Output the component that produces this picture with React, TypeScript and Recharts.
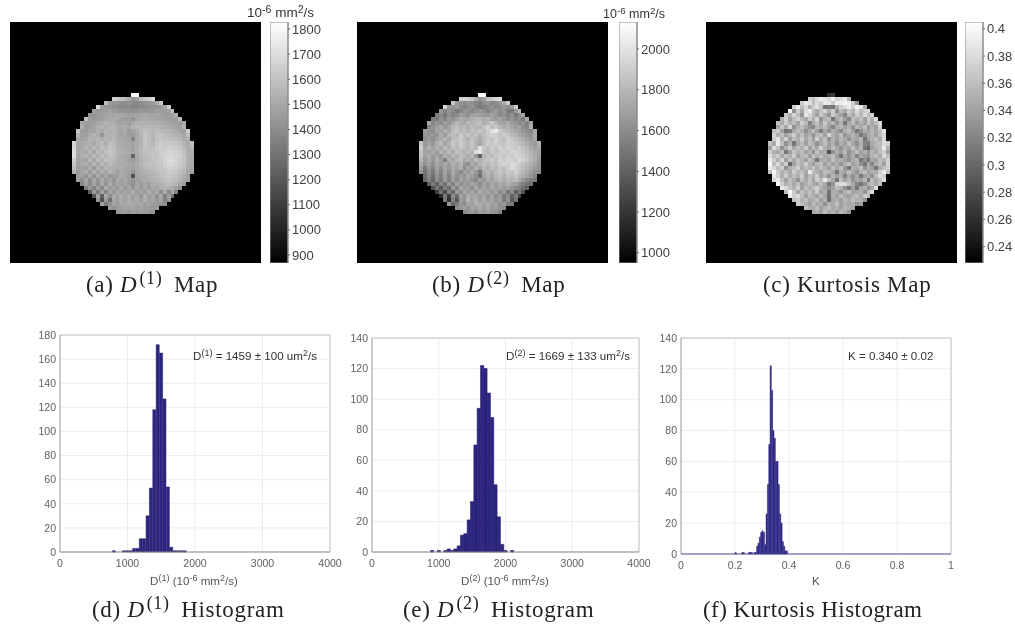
import type { ReactNode } from "react";
import {
  Bar,
  BarChart,
  CartesianGrid,
  ReferenceLine,
  Scatter,
  ScatterChart,
  XAxis,
  YAxis,
} from "recharts";

// histogram bins
const d1Bins = [800, 950, 1000, 1050, 1100, 1150, 1200, 1250, 1300, 1350, 1400, 1450, 1500, 1550, 1600, 1650, 1700, 1750, 1800, 1850];
const d1Counts = [1, 1, 1, 1, 3, 3, 11, 11, 30, 53, 118, 172, 165, 127, 54, 4, 1, 1, 1, 1];
const d2Bins = [900, 1000, 1100, 1150, 1200, 1250, 1300, 1350, 1400, 1450, 1500, 1550, 1600, 1650, 1700, 1750, 1800, 1850, 1900, 1950, 2000, 2100];
const d2Counts = [1, 1, 1, 2, 1, 2, 4, 11, 12, 21, 33, 70, 94, 122, 120, 104, 88, 44, 23, 5, 1, 1];
const kBins = [0.2025, 0.2275, 0.2325, 0.2425, 0.2525, 0.2575, 0.2625, 0.2675, 0.2725, 0.2775, 0.2825, 0.2875, 0.2925, 0.2975, 0.3025, 0.3075, 0.3125, 0.3175, 0.3225, 0.3275, 0.3325, 0.3375, 0.3425, 0.3475, 0.3525, 0.3575, 0.3625, 0.3675, 0.3725, 0.3775, 0.3825, 0.3875, 0.3925];
const kCounts = [1, 1, 1, 0, 1, 1, 1, 0, 1, 1, 5, 7, 11, 14, 15, 14, 6, 26, 45, 71, 122, 106, 80, 75, 60, 60, 45, 26, 20, 8, 5, 2, 2];

const countTicksD1 = [0, 20, 40, 60, 80, 100, 120, 140, 160, 180];
const countTicks = [0, 20, 40, 60, 80, 100, 120, 140];
const diffTicks = [0, 1000, 2000, 3000, 4000];
const kTicks = [0, 0.2, 0.4, 0.6, 0.8, 1];

const d1BarTicks = [900, 1000, 1100, 1200, 1300, 1400, 1500, 1600, 1700, 1800];
const d2BarTicks = [1000, 1200, 1400, 1600, 1800, 2000];
const kBarTicks = [0.24, 0.26, 0.28, 0.3, 0.32, 0.34, 0.36, 0.38, 0.4];

// first column of each row of the round phantom
const rowStarts = [15, 10, 8, 6, 5, 4, 3, 2, 2, 1, 1, 1, 0, 0, 0, 0, 0, 0, 0, 0, 1, 1, 2, 3, 4, 5, 6, 7, 9, 11];

const d1Map = [
  [1810, 1810],
  [1640, 1620, 1580, 1560, 1480, 1400, 1440, 1560, 1600, 1640, 1680],
  [1560, 1430, 1400, 1400, 1380, 1370, 1380, 1360, 1350, 1380, 1390, 1400, 1430, 1480, 1600],
  [1680, 1450, 1420, 1400, 1380, 1380, 1360, 1350, 1370, 1340, 1340, 1360, 1370, 1380, 1390, 1400, 1420, 1470, 1620],
  [1440, 1420, 1420, 1430, 1450, 1430, 1420, 1400, 1400, 1390, 1380, 1400, 1420, 1400, 1400, 1410, 1440, 1430, 1420, 1450, 1560],
  [1400, 1410, 1430, 1450, 1460, 1470, 1470, 1480, 1470, 1460, 1440, 1450, 1460, 1470, 1480, 1470, 1460, 1470, 1450, 1440, 1430, 1450, 1500],
  [1560, 1430, 1410, 1420, 1450, 1470, 1480, 1490, 1480, 1450, 1430, 1450, 1390, 1460, 1480, 1490, 1480, 1480, 1470, 1460, 1450, 1440, 1430, 1430, 1560],
  [1470, 1430, 1430, 1450, 1480, 1490, 1520, 1510, 1500, 1470, 1450, 1470, 1440, 1480, 1510, 1520, 1520, 1510, 1500, 1500, 1490, 1480, 1460, 1450, 1440, 1430, 1480],
  [1500, 1420, 1440, 1470, 1500, 1520, 1500, 1520, 1530, 1490, 1480, 1500, 1470, 1520, 1540, 1540, 1530, 1540, 1520, 1530, 1510, 1500, 1490, 1470, 1460, 1440, 1520],
  [1600, 1440, 1430, 1470, 1460, 1510, 1480, 1530, 1510, 1530, 1500, 1460, 1480, 1430, 1470, 1490, 1540, 1580, 1560, 1540, 1560, 1550, 1540, 1530, 1510, 1490, 1470, 1450, 1620],
  [1520, 1450, 1450, 1490, 1530, 1500, 1400, 1510, 1520, 1530, 1480, 1460, 1470, 1440, 1420, 1470, 1540, 1600, 1570, 1530, 1580, 1590, 1560, 1540, 1530, 1520, 1500, 1470, 1560],
  [1480, 1460, 1470, 1520, 1510, 1530, 1500, 1530, 1510, 1540, 1500, 1480, 1470, 1460, 1340, 1480, 1510, 1590, 1560, 1520, 1570, 1600, 1570, 1580, 1560, 1560, 1540, 1490, 1500],
  [1660, 1470, 1480, 1500, 1510, 1470, 1530, 1560, 1510, 1570, 1550, 1500, 1490, 1480, 1470, 1460, 1490, 1520, 1600, 1570, 1540, 1590, 1620, 1600, 1620, 1600, 1590, 1570, 1520, 1490, 1560],
  [1680, 1480, 1490, 1530, 1490, 1540, 1500, 1570, 1540, 1580, 1560, 1510, 1500, 1490, 1480, 1450, 1490, 1530, 1580, 1560, 1560, 1610, 1640, 1620, 1640, 1630, 1620, 1600, 1550, 1500, 1520],
  [1700, 1480, 1500, 1490, 1530, 1460, 1550, 1520, 1570, 1590, 1570, 1520, 1510, 1500, 1480, 1470, 1500, 1540, 1570, 1570, 1580, 1600, 1630, 1640, 1660, 1650, 1640, 1620, 1570, 1510, 1500],
  [1690, 1470, 1500, 1530, 1480, 1540, 1500, 1560, 1530, 1580, 1560, 1510, 1490, 1480, 1460, 1210, 1480, 1520, 1560, 1570, 1590, 1590, 1620, 1640, 1670, 1670, 1650, 1630, 1590, 1510, 1490],
  [1640, 1460, 1490, 1470, 1530, 1470, 1550, 1510, 1570, 1560, 1540, 1510, 1490, 1480, 1460, 1420, 1470, 1510, 1550, 1560, 1580, 1590, 1610, 1650, 1680, 1680, 1660, 1620, 1590, 1510, 1480],
  [1600, 1450, 1480, 1510, 1460, 1520, 1480, 1540, 1500, 1550, 1530, 1500, 1480, 1490, 1470, 1460, 1490, 1530, 1560, 1570, 1570, 1590, 1610, 1640, 1670, 1670, 1640, 1610, 1580, 1500, 1470],
  [1560, 1450, 1460, 1440, 1500, 1420, 1510, 1470, 1530, 1520, 1500, 1480, 1500, 1480, 1470, 1460, 1480, 1520, 1530, 1560, 1560, 1580, 1600, 1610, 1650, 1640, 1620, 1590, 1560, 1490, 1460],
  [1520, 1430, 1470, 1490, 1430, 1510, 1440, 1510, 1460, 1520, 1490, 1440, 1490, 1480, 1460, 1400, 1470, 1500, 1520, 1530, 1540, 1560, 1590, 1600, 1620, 1610, 1600, 1570, 1540, 1470, 1450],
  [1440, 1450, 1400, 1480, 1390, 1490, 1420, 1470, 1400, 1430, 1440, 1500, 1470, 1450, 1130, 1460, 1480, 1500, 1510, 1530, 1540, 1570, 1580, 1610, 1590, 1580, 1550, 1500, 1460],
  [1430, 1380, 1460, 1370, 1470, 1390, 1480, 1420, 1460, 1400, 1490, 1450, 1480, 1430, 1400, 1440, 1460, 1490, 1500, 1510, 1530, 1550, 1570, 1590, 1570, 1560, 1520, 1470, 1440],
  [1350, 1440, 1350, 1460, 1380, 1470, 1400, 1490, 1430, 1480, 1440, 1460, 1420, 1390, 1460, 1430, 1480, 1440, 1500, 1490, 1520, 1540, 1560, 1540, 1520, 1470, 1420],
  [1300, 1420, 1330, 1450, 1360, 1480, 1420, 1460, 1400, 1490, 1420, 1470, 1410, 1480, 1420, 1470, 1430, 1490, 1460, 1500, 1520, 1510, 1490, 1450, 1390],
  [1180, 1420, 1300, 1460, 1340, 1470, 1410, 1490, 1430, 1470, 1440, 1500, 1430, 1480, 1420, 1500, 1450, 1490, 1380, 1490, 1350, 1460, 1320],
  [1150, 1460, 1200, 1480, 1370, 1490, 1440, 1500, 1460, 1490, 1450, 1480, 1410, 1500, 1430, 1470, 1380, 1480, 1310, 1450, 1250],
  [1400, 1130, 1430, 1250, 1470, 1430, 1490, 1460, 1510, 1450, 1490, 1440, 1500, 1450, 1470, 1410, 1460, 1340, 1400],
  [1450, 1300, 1390, 1460, 1420, 1480, 1470, 1500, 1490, 1460, 1480, 1450, 1470, 1430, 1420, 1400, 1380],
  [1420, 1400, 1440, 1430, 1460, 1450, 1470, 1440, 1460, 1430, 1440, 1410, 1420],
  [1400, 1420, 1430, 1410, 1440, 1420, 1450, 1430, 1420, 1390],
];

const d2Map = [
  [2110, 2110],
  [1900, 1930, 1880, 1840, 1720, 1600, 1660, 1830, 1880, 1930, 1960],
  [1850, 1620, 1590, 1560, 1600, 1580, 1530, 1510, 1580, 1610, 1540, 1570, 1620, 1700, 1880],
  [1940, 1620, 1590, 1640, 1570, 1520, 1560, 1600, 1530, 1480, 1500, 1550, 1590, 1540, 1570, 1620, 1580, 1640, 1860],
  [1620, 1540, 1600, 1560, 1470, 1520, 1610, 1600, 1540, 1590, 1620, 1580, 1520, 1590, 1640, 1560, 1600, 1500, 1480, 1620, 1780],
  [1500, 1570, 1470, 1590, 1530, 1560, 1650, 1620, 1580, 1660, 1690, 1660, 1640, 1620, 1680, 1620, 1560, 1590, 1510, 1600, 1480, 1570, 1680],
  [1520, 1480, 1590, 1530, 1620, 1600, 1660, 1720, 1700, 1680, 1750, 1780, 1770, 1730, 1760, 1680, 1640, 1690, 1620, 1560, 1610, 1540, 1590, 1490, 1720],
  [1700, 1530, 1620, 1570, 1650, 1610, 1700, 1780, 1740, 1700, 1790, 1760, 1800, 1820, 1740, 1790, 1850, 1780, 1700, 1680, 1730, 1650, 1610, 1550, 1600, 1520, 1680],
  [1540, 1600, 1650, 1710, 1620, 1680, 1780, 1820, 1760, 1800, 1740, 1810, 1780, 1760, 1840, 1900, 1810, 1870, 1780, 1720, 1770, 1700, 1640, 1690, 1570, 1540, 1750],
  [1640, 1610, 1570, 1690, 1660, 1740, 1700, 1790, 1850, 1790, 1820, 1770, 1830, 1800, 1860, 1810, 1890, 1980, 2020, 1870, 1820, 1790, 1740, 1700, 1670, 1620, 1580, 1540, 1700],
  [1620, 1600, 1620, 1590, 1730, 1640, 1760, 1820, 1770, 1870, 1800, 1850, 1790, 1840, 1770, 1830, 1860, 1920, 1880, 1830, 1880, 1840, 1790, 1760, 1710, 1660, 1620, 1600, 1720],
  [1580, 1640, 1570, 1660, 1700, 1770, 1700, 1790, 1830, 1870, 1810, 1760, 1830, 1780, 1720, 1810, 1860, 1830, 1900, 1850, 1820, 1890, 1850, 1810, 1780, 1740, 1680, 1620, 1690],
  [1850, 1620, 1680, 1620, 1730, 1790, 1680, 1750, 1860, 1810, 1880, 1830, 1790, 1850, 1760, 1700, 1820, 1880, 1840, 1900, 1860, 1830, 1900, 1880, 1850, 1820, 1780, 1730, 1670, 1640, 1760],
  [1880, 1660, 1740, 1680, 1760, 1690, 1800, 1740, 1830, 1780, 1850, 1810, 1770, 1830, 1790, 1990, 1860, 1810, 1880, 1840, 1900, 1870, 1920, 1890, 1860, 1900, 1830, 1790, 1720, 1680, 1700],
  [1830, 1700, 1660, 1720, 1650, 1770, 1710, 1790, 1720, 1840, 1790, 1760, 1810, 1770, 1950, 2000, 1840, 1800, 1860, 1830, 1880, 1900, 1860, 1920, 1900, 1870, 1850, 1810, 1760, 1700, 1680],
  [1820, 1660, 1720, 1640, 1700, 1620, 1750, 1690, 1770, 1730, 1800, 1770, 1730, 1790, 1620, 1370, 1780, 1830, 1800, 1850, 1890, 1850, 1910, 1870, 1940, 1900, 1880, 1830, 1780, 1720, 1660],
  [1760, 1640, 1700, 1620, 1730, 1660, 1510, 1740, 1690, 1780, 1810, 1720, 1760, 1700, 1790, 1730, 1800, 1840, 1870, 1830, 1900, 1860, 1930, 1910, 1880, 1960, 1900, 1850, 1790, 1730, 1640],
  [1700, 1610, 1670, 1590, 1700, 1640, 1710, 1650, 1750, 1700, 1770, 1640, 1580, 1730, 1680, 1770, 1820, 1780, 1850, 1820, 1880, 1930, 1900, 1950, 1920, 1880, 1840, 1800, 1740, 1680, 1620],
  [1650, 1470, 1620, 1540, 1680, 1590, 1700, 1620, 1720, 1680, 1740, 1560, 1700, 1640, 1750, 1690, 1780, 1740, 1820, 1790, 1850, 1810, 1880, 1960, 1900, 1860, 1810, 1760, 1700, 1640, 1600],
  [1600, 1450, 1570, 1480, 1640, 1530, 1690, 1570, 1700, 1620, 1560, 1680, 1640, 1720, 1620, 1480, 1730, 1780, 1740, 1800, 1850, 1800, 1860, 1840, 1890, 1830, 1770, 1720, 1660, 1590, 1570],
  [1420, 1560, 1440, 1600, 1500, 1660, 1530, 1680, 1590, 1650, 1600, 1700, 1660, 1590, 1440, 1690, 1750, 1710, 1780, 1820, 1760, 1840, 1800, 1850, 1790, 1740, 1680, 1610, 1530],
  [1400, 1520, 1390, 1570, 1470, 1640, 1510, 1650, 1560, 1690, 1620, 1670, 1600, 1550, 1660, 1620, 1710, 1670, 1740, 1790, 1730, 1800, 1770, 1800, 1720, 1640, 1560, 1500, 1480],
  [1330, 1480, 1360, 1540, 1440, 1620, 1520, 1680, 1590, 1660, 1610, 1680, 1640, 1570, 1680, 1630, 1700, 1650, 1720, 1690, 1740, 1710, 1660, 1590, 1510, 1450, 1430],
  [1280, 1460, 1320, 1520, 1410, 1640, 1530, 1700, 1620, 1660, 1580, 1700, 1620, 1690, 1630, 1720, 1660, 1700, 1640, 1680, 1610, 1560, 1500, 1430, 1360],
  [1200, 1450, 1250, 1530, 1380, 1650, 1580, 1720, 1640, 1690, 1610, 1730, 1650, 1700, 1620, 1680, 1560, 1640, 1470, 1560, 1350, 1480, 1300],
  [1100, 1480, 1180, 1560, 1420, 1680, 1600, 1740, 1670, 1720, 1640, 1710, 1620, 1690, 1580, 1640, 1490, 1580, 1350, 1500, 1230],
  [1480, 1120, 1520, 1300, 1650, 1590, 1750, 1680, 1730, 1650, 1720, 1640, 1700, 1610, 1650, 1480, 1590, 1320, 1450],
  [1600, 1380, 1500, 1620, 1560, 1700, 1660, 1750, 1710, 1680, 1720, 1650, 1680, 1590, 1620, 1500, 1480],
  [1580, 1620, 1660, 1600, 1700, 1650, 1720, 1660, 1700, 1640, 1650, 1590, 1560],
  [1560, 1600, 1640, 1580, 1660, 1620, 1680, 1610, 1590, 1530],
];

const kMap = [
  [0.262, 0.27],
  [0.372, 0.36, 0.38, 0.392, 0.386, 0.378, 0.395, 0.376, 0.382, 0.39, 0.352],
  [0.37, 0.39, 0.384, 0.362, 0.38, 0.37, 0.392, 0.388, 0.37, 0.395, 0.39, 0.398, 0.392, 0.372, 0.332],
  [0.37, 0.392, 0.36, 0.378, 0.35, 0.372, 0.384, 0.365, 0.31, 0.315, 0.308, 0.35, 0.372, 0.38, 0.392, 0.375, 0.395, 0.386, 0.345],
  [0.395, 0.33, 0.37, 0.345, 0.38, 0.39, 0.36, 0.345, 0.362, 0.375, 0.35, 0.372, 0.33, 0.36, 0.345, 0.37, 0.355, 0.38, 0.36, 0.372, 0.38],
  [0.365, 0.35, 0.375, 0.36, 0.33, 0.388, 0.375, 0.358, 0.34, 0.366, 0.35, 0.33, 0.368, 0.352, 0.34, 0.32, 0.36, 0.345, 0.37, 0.355, 0.38, 0.36, 0.372],
  [0.35, 0.372, 0.34, 0.36, 0.375, 0.355, 0.345, 0.37, 0.35, 0.375, 0.33, 0.352, 0.36, 0.31, 0.345, 0.36, 0.34, 0.32, 0.358, 0.35, 0.36, 0.34, 0.37, 0.352, 0.38],
  [0.36, 0.345, 0.37, 0.35, 0.36, 0.34, 0.372, 0.356, 0.32, 0.35, 0.362, 0.34, 0.366, 0.345, 0.355, 0.33, 0.35, 0.31, 0.345, 0.36, 0.335, 0.35, 0.34, 0.365, 0.345, 0.36, 0.38],
  [0.34, 0.365, 0.345, 0.375, 0.33, 0.35, 0.36, 0.345, 0.33, 0.32, 0.355, 0.345, 0.36, 0.34, 0.32, 0.345, 0.355, 0.34, 0.35, 0.33, 0.355, 0.345, 0.36, 0.335, 0.35, 0.34, 0.37],
  [0.36, 0.37, 0.34, 0.31, 0.315, 0.345, 0.36, 0.35, 0.33, 0.345, 0.36, 0.34, 0.315, 0.345, 0.33, 0.35, 0.34, 0.325, 0.35, 0.36, 0.34, 0.31, 0.33, 0.35, 0.34, 0.355, 0.345, 0.36, 0.385],
  [0.375, 0.35, 0.36, 0.34, 0.355, 0.37, 0.345, 0.36, 0.34, 0.35, 0.33, 0.352, 0.36, 0.34, 0.375, 0.35, 0.34, 0.36, 0.33, 0.345, 0.355, 0.34, 0.31, 0.33, 0.345, 0.355, 0.34, 0.36, 0.375],
  [0.37, 0.385, 0.35, 0.372, 0.34, 0.36, 0.35, 0.37, 0.345, 0.36, 0.34, 0.37, 0.345, 0.36, 0.33, 0.35, 0.34, 0.355, 0.345, 0.33, 0.35, 0.34, 0.355, 0.31, 0.34, 0.35, 0.36, 0.345, 0.38],
  [0.36, 0.345, 0.39, 0.36, 0.33, 0.35, 0.31, 0.345, 0.36, 0.34, 0.36, 0.35, 0.33, 0.345, 0.36, 0.34, 0.35, 0.33, 0.35, 0.34, 0.36, 0.345, 0.33, 0.35, 0.32, 0.315, 0.345, 0.355, 0.36, 0.38, 0.372],
  [0.34, 0.38, 0.36, 0.33, 0.35, 0.37, 0.345, 0.36, 0.35, 0.37, 0.34, 0.36, 0.345, 0.375, 0.35, 0.34, 0.36, 0.345, 0.33, 0.35, 0.34, 0.36, 0.34, 0.355, 0.31, 0.3, 0.34, 0.35, 0.36, 0.39, 0.35],
  [0.37, 0.35, 0.345, 0.36, 0.31, 0.34, 0.365, 0.35, 0.36, 0.34, 0.35, 0.33, 0.36, 0.345, 0.35, 0.285, 0.33, 0.35, 0.34, 0.355, 0.33, 0.345, 0.36, 0.34, 0.35, 0.33, 0.355, 0.345, 0.36, 0.37, 0.34],
  [0.38, 0.36, 0.37, 0.345, 0.36, 0.35, 0.37, 0.34, 0.355, 0.36, 0.34, 0.365, 0.35, 0.36, 0.345, 0.35, 0.36, 0.34, 0.31, 0.345, 0.33, 0.35, 0.32, 0.345, 0.335, 0.33, 0.35, 0.36, 0.345, 0.38, 0.36],
  [0.39, 0.37, 0.35, 0.375, 0.34, 0.36, 0.345, 0.36, 0.35, 0.34, 0.36, 0.345, 0.31, 0.345, 0.35, 0.34, 0.36, 0.345, 0.35, 0.34, 0.33, 0.345, 0.355, 0.31, 0.33, 0.31, 0.345, 0.34, 0.36, 0.35, 0.37],
  [0.4, 0.36, 0.38, 0.35, 0.37, 0.3, 0.34, 0.36, 0.35, 0.37, 0.35, 0.34, 0.355, 0.36, 0.34, 0.355, 0.34, 0.35, 0.33, 0.35, 0.36, 0.34, 0.35, 0.33, 0.31, 0.345, 0.32, 0.35, 0.36, 0.34, 0.375],
  [0.39, 0.38, 0.36, 0.37, 0.33, 0.35, 0.36, 0.37, 0.345, 0.36, 0.35, 0.365, 0.345, 0.36, 0.35, 0.34, 0.36, 0.345, 0.36, 0.335, 0.31, 0.35, 0.345, 0.36, 0.33, 0.35, 0.34, 0.31, 0.345, 0.36, 0.37],
  [0.36, 0.4, 0.37, 0.35, 0.36, 0.345, 0.37, 0.355, 0.36, 0.345, 0.39, 0.36, 0.35, 0.34, 0.36, 0.355, 0.345, 0.31, 0.35, 0.34, 0.36, 0.345, 0.33, 0.35, 0.36, 0.34, 0.35, 0.345, 0.37, 0.39, 0.36],
  [0.39, 0.37, 0.35, 0.37, 0.345, 0.36, 0.35, 0.37, 0.34, 0.36, 0.35, 0.37, 0.34, 0.35, 0.33, 0.355, 0.34, 0.35, 0.32, 0.345, 0.33, 0.345, 0.31, 0.34, 0.35, 0.33, 0.36, 0.38, 0.37],
  [0.38, 0.39, 0.36, 0.34, 0.36, 0.345, 0.33, 0.36, 0.345, 0.36, 0.34, 0.37, 0.36, 0.39, 0.36, 0.345, 0.31, 0.36, 0.34, 0.355, 0.33, 0.345, 0.34, 0.355, 0.31, 0.36, 0.345, 0.36, 0.38],
  [0.4, 0.37, 0.35, 0.36, 0.345, 0.36, 0.34, 0.35, 0.36, 0.345, 0.34, 0.36, 0.345, 0.31, 0.33, 0.375, 0.38, 0.38, 0.36, 0.345, 0.32, 0.31, 0.33, 0.35, 0.36, 0.345, 0.36],
  [0.39, 0.38, 0.36, 0.35, 0.37, 0.34, 0.36, 0.35, 0.36, 0.37, 0.35, 0.34, 0.33, 0.34, 0.36, 0.35, 0.33, 0.31, 0.34, 0.31, 0.345, 0.35, 0.33, 0.345, 0.38],
  [0.36, 0.4, 0.37, 0.345, 0.36, 0.35, 0.36, 0.345, 0.37, 0.34, 0.35, 0.31, 0.35, 0.345, 0.33, 0.35, 0.36, 0.34, 0.345, 0.35, 0.33, 0.36, 0.38],
  [0.39, 0.37, 0.38, 0.36, 0.34, 0.36, 0.35, 0.34, 0.36, 0.345, 0.305, 0.35, 0.34, 0.36, 0.345, 0.34, 0.35, 0.36, 0.345, 0.37, 0.36],
  [0.36, 0.37, 0.35, 0.36, 0.345, 0.35, 0.36, 0.34, 0.35, 0.305, 0.345, 0.35, 0.34, 0.355, 0.345, 0.36, 0.35, 0.35, 0.33],
  [0.37, 0.36, 0.35, 0.34, 0.36, 0.345, 0.35, 0.33, 0.35, 0.345, 0.36, 0.34, 0.35, 0.345, 0.35, 0.33, 0.34],
  [0.36, 0.35, 0.345, 0.36, 0.34, 0.35, 0.36, 0.345, 0.35, 0.34, 0.355, 0.35, 0.34],
  [0.345, 0.35, 0.34, 0.36, 0.345, 0.35, 0.34, 0.355, 0.345, 0.33],
];

const MAP_W = 251;
const MAP_H = 241;
const CELL_W = 3.93;
const CELL_H = 4.05;
const LEFT_COLS = 15.85; // empty columns left of the phantom
const TOP_ROWS = 17.5;

const gray = (v: number, lo: number, hi: number) => {
  const g = Math.round((Math.max(0, Math.min(1, (v - lo) / (hi - lo)))) * 255);
  return `rgb(${g},${g},${g})`;
};

const sans = "'Liberation Sans', Arial, sans-serif";
const serif = "'Liberation Serif', serif";

function MapPanel({ left, rows, lo, hi }: { left: number; rows: number[][]; lo: number; hi: number }) {
  const cells = rows.flatMap((r, i) =>
    r.map((v, j) => ({ col: LEFT_COLS + rowStarts[i] + j + 0.5, row: TOP_ROWS + i + 0.5, v }))
  );
  return (
    <div style={{ position: "absolute", left, top: 22 }}>
      <ScatterChart width={MAP_W} height={MAP_H} margin={{ top: 0, right: 0, bottom: 0, left: 0 }}>
        <CartesianGrid fill="#000" fillOpacity={1} horizontal={false} vertical={false} />
        <XAxis type="number" dataKey="col" domain={[0, MAP_W / CELL_W]} hide />
        <YAxis type="number" dataKey="row" domain={[0, MAP_H / CELL_H]} reversed hide />
        <Scatter
          data={cells}
          isAnimationActive={false}
          shape={(p: any) => (
            <rect
              x={p.cx - CELL_W / 2}
              y={p.cy - CELL_H / 2}
              width={CELL_W}
              height={CELL_H}
              shapeRendering="crispEdges"
              fill={gray(p.payload.v, lo, hi)}
            />
          )}
        />
      </ScatterChart>
    </div>
  );
}

function ColorBar({ id, left, lo, hi, ticks }: { id: string; left: number; lo: number; hi: number; ticks: number[] }) {
  return (
    <div style={{ position: "absolute", left, top: 22 }}>
      <BarChart
        width={60}
        height={MAP_H}
        data={[{ name: "scale", range: [lo, hi] }]}
        margin={{ top: 0, right: 0, bottom: 0, left: 0 }}
        barCategoryGap={0}
      >
        <defs>
          <linearGradient id={id} x1="0" y1="0" x2="0" y2="1">
            <stop offset="0%" stopColor="#fff" />
            <stop offset="100%" stopColor="#000" />
          </linearGradient>
        </defs>
        <XAxis dataKey="name" hide />
        <YAxis
          orientation="right"
          width={42}
          domain={[lo, hi]}
          ticks={ticks}
          interval={0}
          allowDataOverflow
          axisLine={{ stroke: "#8c8c8c" }}
          tickLine={{ stroke: "#666" }}
          tickSize={2}
          tickMargin={2}
          tick={{ fill: "#404040", fontSize: 13, fontFamily: sans, textAnchor: "start" }}
        />
        <Bar dataKey="range" fill={`url(#${id})`} stroke="#8c8c8c" strokeWidth={1} isAnimationActive={false} />
      </BarChart>
    </div>
  );
}

function HistPanel({
  left,
  right,
  top,
  bottom,
  bins,
  counts,
  xMax,
  xTicks,
  yMax,
  yTicks,
  barSize,
  barStroke,
  axisColor,
}: {
  left: number;
  right: number;
  top: number;
  bottom: number;
  bins: number[];
  counts: number[];
  xMax: number;
  xTicks: number[];
  yMax: number;
  yTicks: number[];
  barSize: number;
  barStroke: string;
  axisColor: string;
}) {
  const data = bins.map((bin, i) => ({ bin, count: counts[i] }));
  const tickStyle = { fill: "#606060", fontSize: 10.5, fontFamily: sans };
  return (
    <div style={{ position: "absolute", left: left - 40, top: top - 12 }}>
      <BarChart
        width={right - left + 40 + 25}
        height={bottom - top + 12 + 24}
        data={data}
        margin={{ top: 12, right: 25, bottom: 0, left: 0 }}
      >
        <CartesianGrid stroke="#ededed" />
        <XAxis
          type="number"
          dataKey="bin"
          domain={[0, xMax]}
          ticks={xTicks}
          interval={0}
          allowDataOverflow
          height={24}
          tickLine={false}
          tickSize={0}
          tickMargin={8}
          axisLine={{ stroke: axisColor }}
          tick={tickStyle}
        />
        <YAxis
          width={40}
          domain={[0, yMax]}
          ticks={yTicks}
          interval={0}
          tickLine={false}
          tickSize={0}
          tickMargin={4}
          axisLine={{ stroke: "#a0a0a0" }}
          tick={tickStyle}
        />
        <ReferenceLine y={yMax} stroke="#c4c4c4" />
        <ReferenceLine x={xMax} stroke="#c4c4c4" />
        <Bar dataKey="count" barSize={barSize} fill="#2d2682" stroke={barStroke} strokeWidth={0.5} isAnimationActive={false} />
      </BarChart>
    </div>
  );
}

function Txt({ x, y, size, color, font, children }: { x: number; y: number; size: number; color: string; font: string; children: ReactNode }) {
  return (
    <div
      style={{
        position: "absolute",
        left: x,
        top: y,
        fontSize: size,
        color,
        fontFamily: font,
        lineHeight: 1,
        whiteSpace: "nowrap",
      }}
    >
      {children}
    </div>
  );
}

const Sup = ({ children }: { children: ReactNode }) => (
  <span style={{ fontSize: "0.78em", position: "relative", top: "-0.42em" }}>{children}</span>
);

function Caption({ x, y, tag, sup, rest, spacing = 0.7 }: { x: number; y: number; tag: string; sup?: string; rest: string; spacing?: number }) {
  return (
    <Txt x={x} y={y} size={23} color="#222" font={serif}>
      <span style={{ letterSpacing: spacing }}>
        {tag}
        {sup ? (
          <>
            {" "}
            <i>D</i>
            <span style={{ marginLeft: 2, marginRight: 5 }}>
              <Sup>{sup}</Sup>
            </span>
          </>
        ) : null}{" "}
        {rest}
      </span>
    </Txt>
  );
}

export default function App() {
  return (
    <div
      style={{
        position: "absolute",
        left: 0,
        top: 0,
        width: 1015,
        height: 629,
        background: "#fff",
        overflow: "hidden",
        filter: "blur(0.35px)",
      }}
    >
      {/* cell lows sit a little under the colorbar lows, the maps read lighter than the bars */}
      <MapPanel left={10} rows={d1Map} lo={800} hi={1828} />
      <MapPanel left={357} rows={d2Map} lo={880} hi={2132} />
      <MapPanel left={706} rows={kMap} lo={0.228} hi={0.405} />

      <ColorBar id="barA" left={270} lo={868} hi={1828} ticks={d1BarTicks} />
      <ColorBar id="barB" left={619} lo={950} hi={2132} ticks={d2BarTicks} />
      <ColorBar id="barC" left={965} lo={0.228} hi={0.405} ticks={kBarTicks} />

      <Txt x={247} y={6} size={13.5} color="#333" font={sans}>
        10<Sup>-6</Sup> mm<Sup>2</Sup>/s
      </Txt>
      <Txt x={603} y={8} size={12.5} color="#333" font={sans}>
        10<Sup>-6</Sup> mm<Sup>2</Sup>/s
      </Txt>

      <Caption x={86} y={273} tag="(a)" sup="(1)" rest="Map" />
      <Caption x={432} y={273} tag="(b)" sup="(2)" rest="Map" />
      <Caption x={763} y={273} tag="(c) Kurtosis" rest="Map" />

      <HistPanel left={60} right={330} top={335} bottom={552} bins={d1Bins} counts={d1Counts} xMax={4000} xTicks={diffTicks} yMax={180} yTicks={countTicksD1} barSize={3.4} barStroke="#1c1760" axisColor="#8a8a8a" />
      <HistPanel left={372} right={639} top={338} bottom={552} bins={d2Bins} counts={d2Counts} xMax={4000} xTicks={diffTicks} yMax={140} yTicks={countTicks} barSize={3.3} barStroke="#1c1760" axisColor="#8a8a8a" />
      <HistPanel left={681} right={951} top={338} bottom={554} bins={kBins} counts={kCounts} xMax={1} xTicks={kTicks} yMax={140} yTicks={countTicks} barSize={1.4} barStroke="#2d2682" axisColor="#4f4a96" />

      <Txt x={193} y={350} size={11.6} color="#333" font={sans}>
        D<Sup>(1)</Sup> = 1459 ± 100 um<Sup>2</Sup>/s
      </Txt>
      <Txt x={506} y={350} size={11.6} color="#333" font={sans}>
        D<Sup>(2)</Sup> = 1669 ± 133 um<Sup>2</Sup>/s
      </Txt>
      <Txt x={848} y={350} size={11.6} color="#333" font={sans}>
        K = 0.340 ± 0.02
      </Txt>

      <Txt x={150} y={575} size={11.6} color="#555" font={sans}>
        D<Sup>(1)</Sup> (10<Sup>-6</Sup> mm<Sup>2</Sup>/s)
      </Txt>
      <Txt x={461} y={575} size={11.6} color="#555" font={sans}>
        D<Sup>(2)</Sup> (10<Sup>-6</Sup> mm<Sup>2</Sup>/s)
      </Txt>
      <Txt x={812} y={575} size={11.6} color="#555" font={sans}>
        K
      </Txt>

      <Caption x={92} y={598} tag="(d)" sup="(1)" rest="Histogram" />
      <Caption x={403} y={598} tag="(e)" sup="(2)" rest="Histogram" />
      <Caption x={703} y={598} tag="(f) Kurtosis" rest="Histogram" spacing={0.45} />
    </div>
  );
}
